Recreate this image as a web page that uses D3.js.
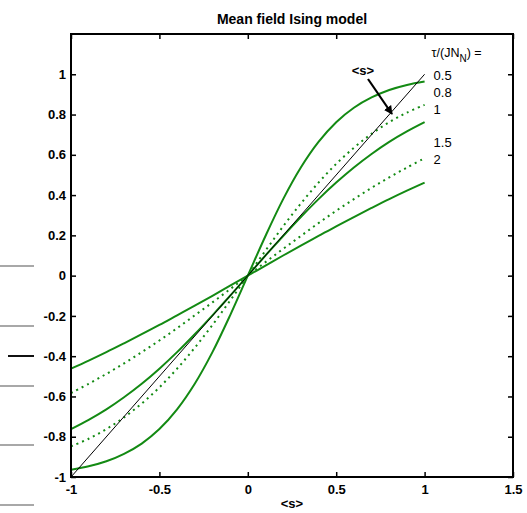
<!DOCTYPE html>
<html><head><meta charset="utf-8">
<script src="https://cdn.jsdelivr.net/npm/d3@7"></script>
<style>
html,body{margin:0;padding:0;background:#fff;}
svg{display:block;}
text{font-family:"Liberation Sans",Arial,sans-serif;}
</style></head>
<body>
<script>
// ---- data ----
const sValues = [-1,-0.9,-0.8,-0.7,-0.6,-0.5,-0.4,-0.3,-0.2,-0.1,0,0.1,0.2,0.3,0.4,0.5,0.6,0.7,0.8,0.9,1];
const tauLabels = ["0.5","0.8","1","1.5","2"];
const tau05 = [-0.964,-0.947,-0.922,-0.885,-0.834,-0.762,-0.664,-0.537,-0.380,-0.197,0,0.197,0.380,0.537,0.664,0.762,0.834,0.885,0.922,0.947,0.964];
const tau08 = [-0.848,-0.810,-0.762,-0.704,-0.635,-0.555,-0.462,-0.358,-0.245,-0.124,0,0.124,0.245,0.358,0.462,0.555,0.635,0.704,0.762,0.810,0.848];
const tau1  = [-0.762,-0.716,-0.664,-0.604,-0.537,-0.462,-0.380,-0.291,-0.197,-0.100,0,0.100,0.197,0.291,0.380,0.462,0.537,0.604,0.664,0.716,0.762];
const tau15 = [-0.583,-0.537,-0.488,-0.436,-0.380,-0.322,-0.261,-0.197,-0.133,-0.067,0,0.067,0.133,0.197,0.261,0.322,0.380,0.436,0.488,0.537,0.583];
const tau2  = [-0.462,-0.422,-0.380,-0.336,-0.291,-0.245,-0.197,-0.149,-0.100,-0.050,0,0.050,0.100,0.149,0.197,0.245,0.291,0.336,0.380,0.422,0.462];
const identityLine = [[-1,-1],[1,1]];
const xTicks = [-1,-0.5,0,0.5,1,1.5];
const yTicks = [-1,-0.8,-0.6,-0.4,-0.2,0,0.2,0.4,0.6,0.8,1];
const labelYValues = [0.995,0.91,0.83,0.665,0.58];

const W=527,H=513;
const m={l:71,r:513,t:34,b:477};
const svg=d3.select("body").append("svg").attr("width",W).attr("height",H);

// stray marks at far left
const stray=[{y:266,c:"#a8a8a8",x0:0},{y:326,c:"#a8a8a8",x0:0},{y:356,c:"#111",x0:8},{y:386,c:"#a8a8a8",x0:0},{y:445,c:"#a8a8a8",x0:0},{y:505,c:"#a8a8a8",x0:0}];
svg.selectAll("line.stray").data(stray).enter().append("line")
  .attr("x1",d=>d.x0).attr("x2",34).attr("y1",d=>d.y).attr("y2",d=>d.y)
  .attr("stroke",d=>d.c).attr("stroke-width",2);

const x=d3.scaleLinear().domain([-1,1.5]).range([m.l,m.r]);
const y=d3.scaleLinear().domain([-1,1.2]).range([m.b,m.t]);

const green="#138a13";
const line=d3.line().x(d=>x(d[0])).y(d=>y(d[1])).curve(d3.curveCatmullRom);
const series=[
  {v:tau05,dash:null},{v:tau08,dash:"2,4"},{v:tau1,dash:null},{v:tau15,dash:"2,4"},{v:tau2,dash:null}
];
series.forEach(s=>{
  svg.append("path").datum(sValues.map((sv,i)=>[sv,s.v[i]]))
    .attr("d",line).attr("fill","none").attr("stroke",green)
    .attr("stroke-width",2).attr("stroke-dasharray",s.dash);
});
svg.append("path").datum(identityLine).attr("d",d3.line().x(d=>x(d[0])).y(d=>y(d[1])))
  .attr("stroke","#000").attr("stroke-width",1).attr("fill","none");

// axes
const fmt=d=>String(d);
const gB=svg.append("g").attr("transform",`translate(0,${m.b})`)
  .call(d3.axisBottom(x).tickValues(xTicks).tickSize(-5).tickPadding(8).tickFormat(fmt));
const gL=svg.append("g").attr("transform",`translate(${m.l},0)`)
  .call(d3.axisLeft(y).tickValues(yTicks).tickSize(-5).tickPadding(5).tickFormat(fmt));
const gT=svg.append("g").attr("transform",`translate(0,${m.t})`)
  .call(d3.axisTop(x).tickValues(xTicks).tickSize(-5).tickFormat(""));
const gR=svg.append("g").attr("transform",`translate(${m.r},0)`)
  .call(d3.axisRight(y).tickValues(yTicks).tickSize(-5).tickFormat(""));
[gB,gL,gT,gR].forEach(g=>{
  g.select(".domain").remove();
  g.selectAll(".tick line").attr("stroke","#000").attr("stroke-width",1.5);
  g.selectAll("text").attr("font-family","'Liberation Sans',Arial,sans-serif")
   .attr("font-size",13).attr("font-weight","bold").attr("fill","#000");
});
svg.append("rect").attr("x",m.l).attr("y",m.t).attr("width",m.r-m.l).attr("height",m.b-m.t)
  .attr("fill","none").attr("stroke","#000").attr("stroke-width",2);

// title and x label
svg.append("text").attr("x",(m.l+m.r)/2).attr("y",24).attr("text-anchor","middle")
  .attr("font-size",14).attr("font-weight","bold").text("Mean field Ising model");
svg.append("text").attr("x",(m.l+m.r)/2).attr("y",508).attr("text-anchor","middle")
  .attr("font-size",13).attr("font-weight","bold").text("<s>");

// legend header
const hdr=svg.append("text").attr("x",x(1)+7).attr("y",57).attr("font-size",12.5);
hdr.append("tspan").text("τ/(JN");
hdr.append("tspan").attr("font-size",10).attr("dy",5).text("N");
hdr.append("tspan").attr("dy",-5).text(") =");
svg.selectAll("text.tl").data(tauLabels).enter().append("text")
  .attr("x",x(1)+9).attr("y",(d,i)=>y(labelYValues[i])+5).attr("font-size",13).text(d=>d);

// <s> annotation with arrow
svg.append("defs").append("marker").attr("id","ah").attr("viewBox","0 0 10 10")
  .attr("refX",9).attr("refY",5).attr("markerWidth",4).attr("markerHeight",4).attr("orient","auto")
  .append("path").attr("d","M0,0L10,5L0,10z").attr("fill","#000");
svg.append("text").attr("x",363).attr("y",75).attr("text-anchor","middle")
  .attr("font-size",13).attr("font-weight","bold").text("<s>");
svg.append("line").attr("x1",368).attr("y1",79).attr("x2",392).attr("y2",114)
  .attr("stroke","#000").attr("stroke-width",2.2).attr("marker-end","url(#ah)");
</script>
</body></html>
